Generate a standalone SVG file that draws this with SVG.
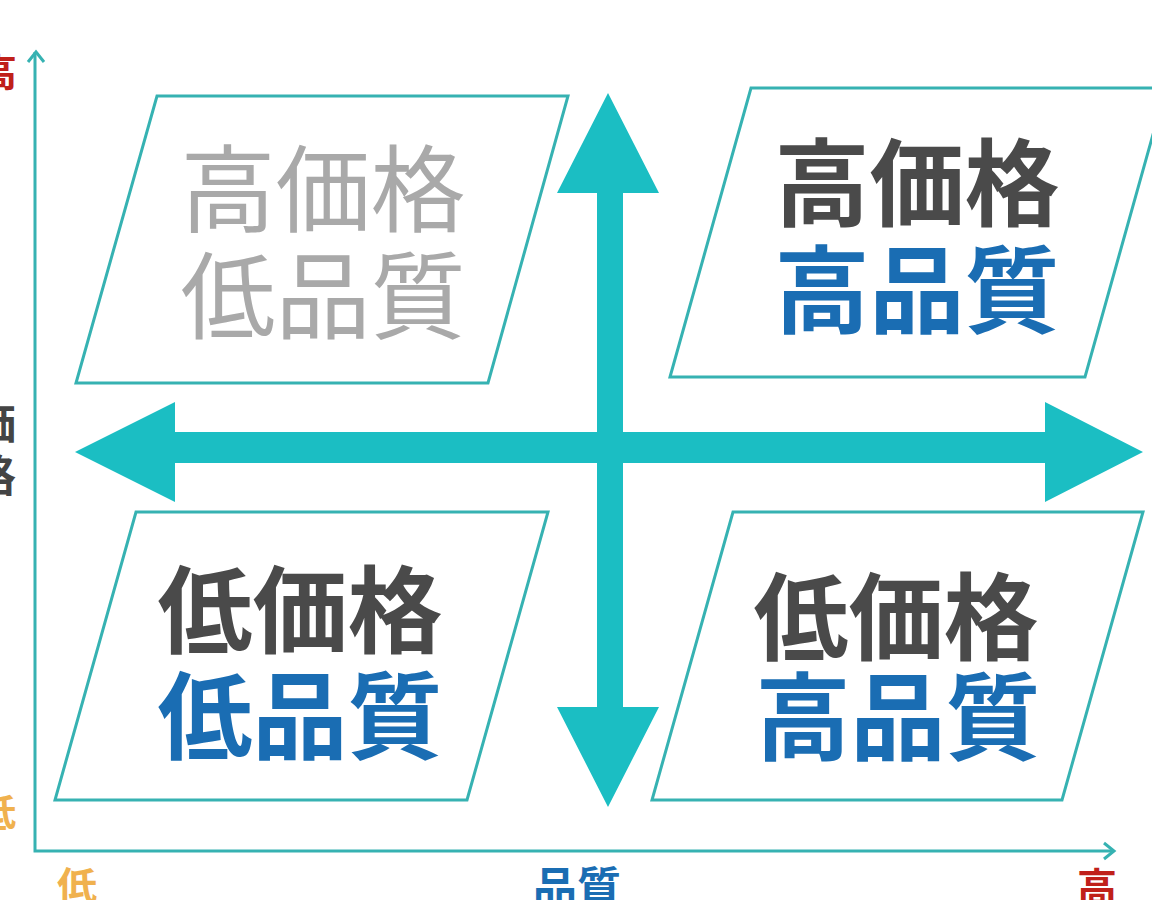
<svg xmlns="http://www.w3.org/2000/svg" width="1152" height="900" viewBox="0 0 1152 900">
<style>
.box{fill:#fff;stroke:#36b2b2;stroke-width:3}
.t{font-family:"Noto Sans CJK JP","Noto Sans CJK SC",sans-serif;text-anchor:middle;dominant-baseline:central}
.big{font-size:95px;font-weight:700}
.dark{fill:#4a4a4a}
.blue{fill:#1a6db3}
.light{fill:#a9a9a9;font-weight:400}
.axis{fill:none;stroke:#36b2b2;stroke-width:3}
.cross{fill:#1bbec3}
</style>
<rect width="1152" height="900" fill="#fff"/>
<g id="axes">
<polyline class="axis" points="35,52 35,851 1113,851"/>
<polyline class="axis" points="28,62 36,52 44,62"/>
<polyline class="axis" points="1104,843 1114,851 1104,859"/>
</g>
<g id="q-tl">
<polygon class="box" points="157,96 568,96 488,383 76,383"/>
<text class="t big light" x="323" y="183">高価格</text>
<text class="t big light" x="323" y="290">低品質</text>
</g>
<g id="q-tr">
<polygon class="box" points="751,88 1166,88 1085,377 670,377"/>
<text class="t big dark" x="917" y="177">高価格</text>
<text class="t big blue" x="917" y="284">高品質</text>
</g>
<g id="q-bl">
<polygon class="box" points="136,512 548,512 467,800 55,800"/>
<text class="t big dark" x="300" y="604">低価格</text>
<text class="t big blue" x="300" y="710">低品質</text>
</g>
<g id="q-br">
<polygon class="box" points="733,512 1143,512 1062,800 652,800"/>
<text class="t big dark" x="896" y="611">低価格</text>
<text class="t big blue" x="898" y="711">高品質</text>
</g>
<g id="connectors">
<polygon class="cross" points="608,93 659,193 623,193 623,707 659,707 608,807 557,707 597,707 597,193 557,193"/>
<polygon class="cross" points="75,452 175,402 175,432 1045,432 1045,402 1143,452 1045,502 1045,463 175,463 175,502"/>
</g>
<g id="labels">
<text class="t" x="-2" y="69" font-size="38" font-weight="700" fill="#c0201a">高</text>
<text class="t" x="-6" y="421" font-size="44" font-weight="700" fill="#444">価</text>
<text class="t" x="-6" y="473" font-size="44" font-weight="700" fill="#444">格</text>
<text class="t" x="-3" y="809" font-size="38" font-weight="700" fill="#f0b14e">低</text>
<text class="t" x="77" y="884" font-size="40" font-weight="700" fill="#f0b14e">低</text>
<text class="t" x="577" y="885" font-size="44" font-weight="700" fill="#1a6db3">品質</text>
<text class="t" x="1097" y="885" font-size="40" font-weight="700" fill="#c0201a">高</text>
</g>
</svg>
